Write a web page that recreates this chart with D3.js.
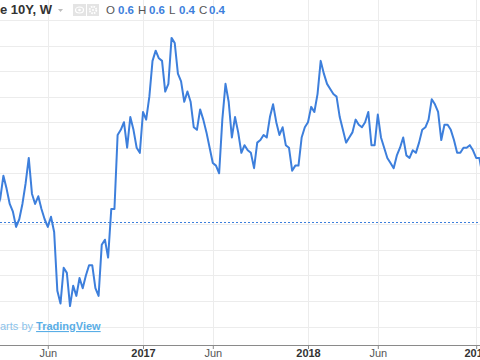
<!DOCTYPE html>
<html>
<head>
<meta charset="utf-8">
<script src="https://cdn.jsdelivr.net/npm/d3@7"></script>
<style>
  html, body { margin: 0; padding: 0; background: #fff; }
  svg { display: block; font-family: "Liberation Sans", Arial, sans-serif; }
</style>
</head>
<body>
<svg id="chart" width="480" height="360"></svg>
<script>
// ---- Data (weekly closes, first bar week of 2016-02-15) ----
const firstWeek = "2016-02-15";
const weeklyClose = [
  0.46, 0.50, 0.59, 0.54, 0.48, 0.45, 0.39, 0.42, 0.48, 0.56,
  0.66, 0.52, 0.48, 0.51, 0.46, 0.42, 0.39, 0.43, 0.37, 0.14,
  0.09, 0.23, 0.21, 0.08, 0.16, 0.12, 0.19, 0.15, 0.20, 0.24,
  0.24, 0.15, 0.12, 0.32, 0.34, 0.27, 0.46, 0.46, 0.75, 0.77,
  0.80, 0.70, 0.82, 0.77, 0.70, 0.68, 0.84, 0.81, 0.90, 1.04,
  1.08, 1.05, 1.04, 0.92, 0.95, 1.13, 1.11, 0.99, 0.96, 0.88,
  0.92, 0.88, 0.78, 0.77, 0.85, 0.81, 0.76, 0.70, 0.64, 0.63,
  0.60, 0.81, 0.95, 0.88, 0.74, 0.82, 0.76, 0.68, 0.71, 0.69,
  0.68, 0.62, 0.72, 0.73, 0.75, 0.74, 0.82, 0.87, 0.80, 0.75,
  0.78, 0.71, 0.70, 0.61, 0.63, 0.63, 0.74, 0.78, 0.80, 0.86,
  0.84, 0.91, 1.04, 0.99, 0.95, 0.93, 0.91, 0.90, 0.82, 0.77,
  0.72, 0.74, 0.76, 0.81, 0.79, 0.78, 0.80, 0.84, 0.71, 0.71,
  0.83, 0.74, 0.70, 0.66, 0.64, 0.62, 0.67, 0.70, 0.74, 0.67,
  0.66, 0.69, 0.68, 0.72, 0.77, 0.78, 0.81, 0.89, 0.87, 0.84,
  0.73, 0.79, 0.79, 0.77, 0.73, 0.68, 0.68, 0.70, 0.70, 0.71,
  0.69, 0.66, 0.66, 0.59
];
const refLevel = 0.41;                       // dotted horizontal line
const yGridLevels = [0.0, 0.1, 0.2, 0.3, 0.4, 0.5, 0.6, 0.7, 0.8, 0.9, 1.0, 1.1, 1.2];
const tickDates = ["2016-06-06", "2017-01-02", "2017-06-05", "2018-01-01", "2018-06-04", "2019-01-07"];
const tickLabels = ["Jun", "2017", "Jun", "2018", "Jun", "2019"];
const titleText = "e 10Y, W";
const legendKeys = ["O", "H", "L", "C"];
const legendVals = ["0.6", "0.6", "0.4", "0.4"];
const creditPrefix = "arts by";
const creditBrand = "TradingView";

// ---- Setup ----
const parse = d3.utcParse("%Y-%m-%d");
const start = parse(firstWeek);
const series = weeklyClose.map((v, i) => ({ date: d3.utcDay.offset(start, 7 * i), value: v }));

const W = 480, H = 360;
const svg = d3.select("#chart");
const lineColor = "#3d7fdc";

const x = d3.scaleUtc()
  .domain([parse("2017-01-02"), parse("2018-01-01")])
  .range([143, 308]);
const y = d3.scaleLinear().domain([0.1, 1.2]).range([301, 20]);
const axisY = 345;

// grid
const grid = svg.append("g");
grid.selectAll("line.h").data(yGridLevels).join("line")
  .attr("x1", 0).attr("x2", W)
  .attr("y1", d => Math.round(y(d)) + 0.5).attr("y2", d => Math.round(y(d)) + 0.5)
  .attr("stroke", "#ececec").attr("stroke-width", 1);
grid.selectAll("line.v").data(tickDates).join("line")
  .attr("x1", d => Math.round(x(parse(d))) + 0.5).attr("x2", d => Math.round(x(parse(d))) + 0.5)
  .attr("y1", 0).attr("y2", axisY)
  .attr("stroke", "#ececec").attr("stroke-width", 1);

// reference dotted line
svg.append("line")
  .attr("x1", 0).attr("x2", W)
  .attr("y1", Math.round(y(refLevel)) + 0.5).attr("y2", Math.round(y(refLevel)) + 0.5)
  .attr("stroke", lineColor).attr("stroke-width", 1)
  .attr("stroke-dasharray", "2,2");

// series line
svg.append("path")
  .datum(series)
  .attr("fill", "none")
  .attr("stroke", lineColor)
  .attr("stroke-width", 2)
  .attr("stroke-linejoin", "round")
  .attr("d", d3.line().x(d => x(d.date)).y(d => y(d.value)));

// x axis
const xAxis = d3.axisBottom(x)
  .tickValues(tickDates.map(parse))
  .tickFormat((d, i) => tickLabels[i])
  .tickSize(4)
  .tickSizeOuter(0);
const gx = svg.append("g").attr("transform", `translate(0,${axisY})`).call(xAxis);
gx.select(".domain").remove();
gx.append("line").attr("x1", 0).attr("x2", W).attr("y1", 0.5).attr("y2", 0.5)
  .attr("stroke", "#8a8a8a");
gx.selectAll(".tick line").attr("stroke", "#8a8a8a");
gx.selectAll(".tick text")
  .attr("y", 4)
  .attr("font-size", 11)
  .attr("font-family", "Liberation Sans, Arial, sans-serif")
  .attr("font-weight", (d, i) => /^\d+$/.test(tickLabels[i]) ? "bold" : "normal")
  .attr("fill", (d, i) => /^\d+$/.test(tickLabels[i]) ? "#333" : "#555");

// header
svg.append("text").attr("x", 0).attr("y", 13.5)
  .attr("font-size", 13).attr("font-weight", "bold").attr("fill", "#333")
  .text(titleText);
svg.append("path").attr("d", "M58,9 L63,9 L60.5,12 Z").attr("fill", "#bdbdbd");
// icon boxes
const iconG = svg.append("g");
iconG.append("rect").attr("x", 73).attr("y", 4).attr("width", 13).attr("height", 12).attr("fill", "#e4e4e4");
iconG.append("rect").attr("x", 87).attr("y", 4).attr("width", 12).attr("height", 12).attr("fill", "#e4e4e4");
iconG.append("ellipse").attr("cx", 79.5).attr("cy", 10).attr("rx", 4).attr("ry", 3)
  .attr("fill", "none").attr("stroke", "#fff").attr("stroke-width", 1.2);
iconG.append("circle").attr("cx", 79.5).attr("cy", 10).attr("r", 1.3).attr("fill", "#fff");
iconG.append("circle").attr("cx", 93).attr("cy", 10).attr("r", 3.3)
  .attr("fill", "none").attr("stroke", "#fff").attr("stroke-width", 1.8)
  .attr("stroke-dasharray", "1.6,1");
iconG.append("circle").attr("cx", 93).attr("cy", 10).attr("r", 1).attr("fill", "#fff");

// OHLC legend
const keyX = [106, 138, 169, 199];
const valX = [118, 149, 179, 209];
const leg = svg.append("g");
leg.selectAll("text.k").data(legendKeys).join("text")
  .attr("x", (d, i) => keyX[i]).attr("y", 13.5)
  .attr("font-size", 11.5).attr("fill", "#555").text(d => d);
leg.selectAll("text.v").data(legendVals).join("text")
  .attr("x", (d, i) => valX[i]).attr("y", 13.5)
  .attr("font-size", 11.5).attr("font-weight", "bold").attr("fill", lineColor).text(d => d);

// credit
const credit = svg.append("text").attr("x", 0).attr("y", 330).attr("font-size", 11);
credit.append("tspan").attr("fill", "#8cc3ea").text(creditPrefix + " ");
credit.append("tspan").attr("fill", "#5aaee6").attr("font-weight", "bold")
  .attr("text-decoration", "underline").text(creditBrand);
</script>
</body>
</html>
